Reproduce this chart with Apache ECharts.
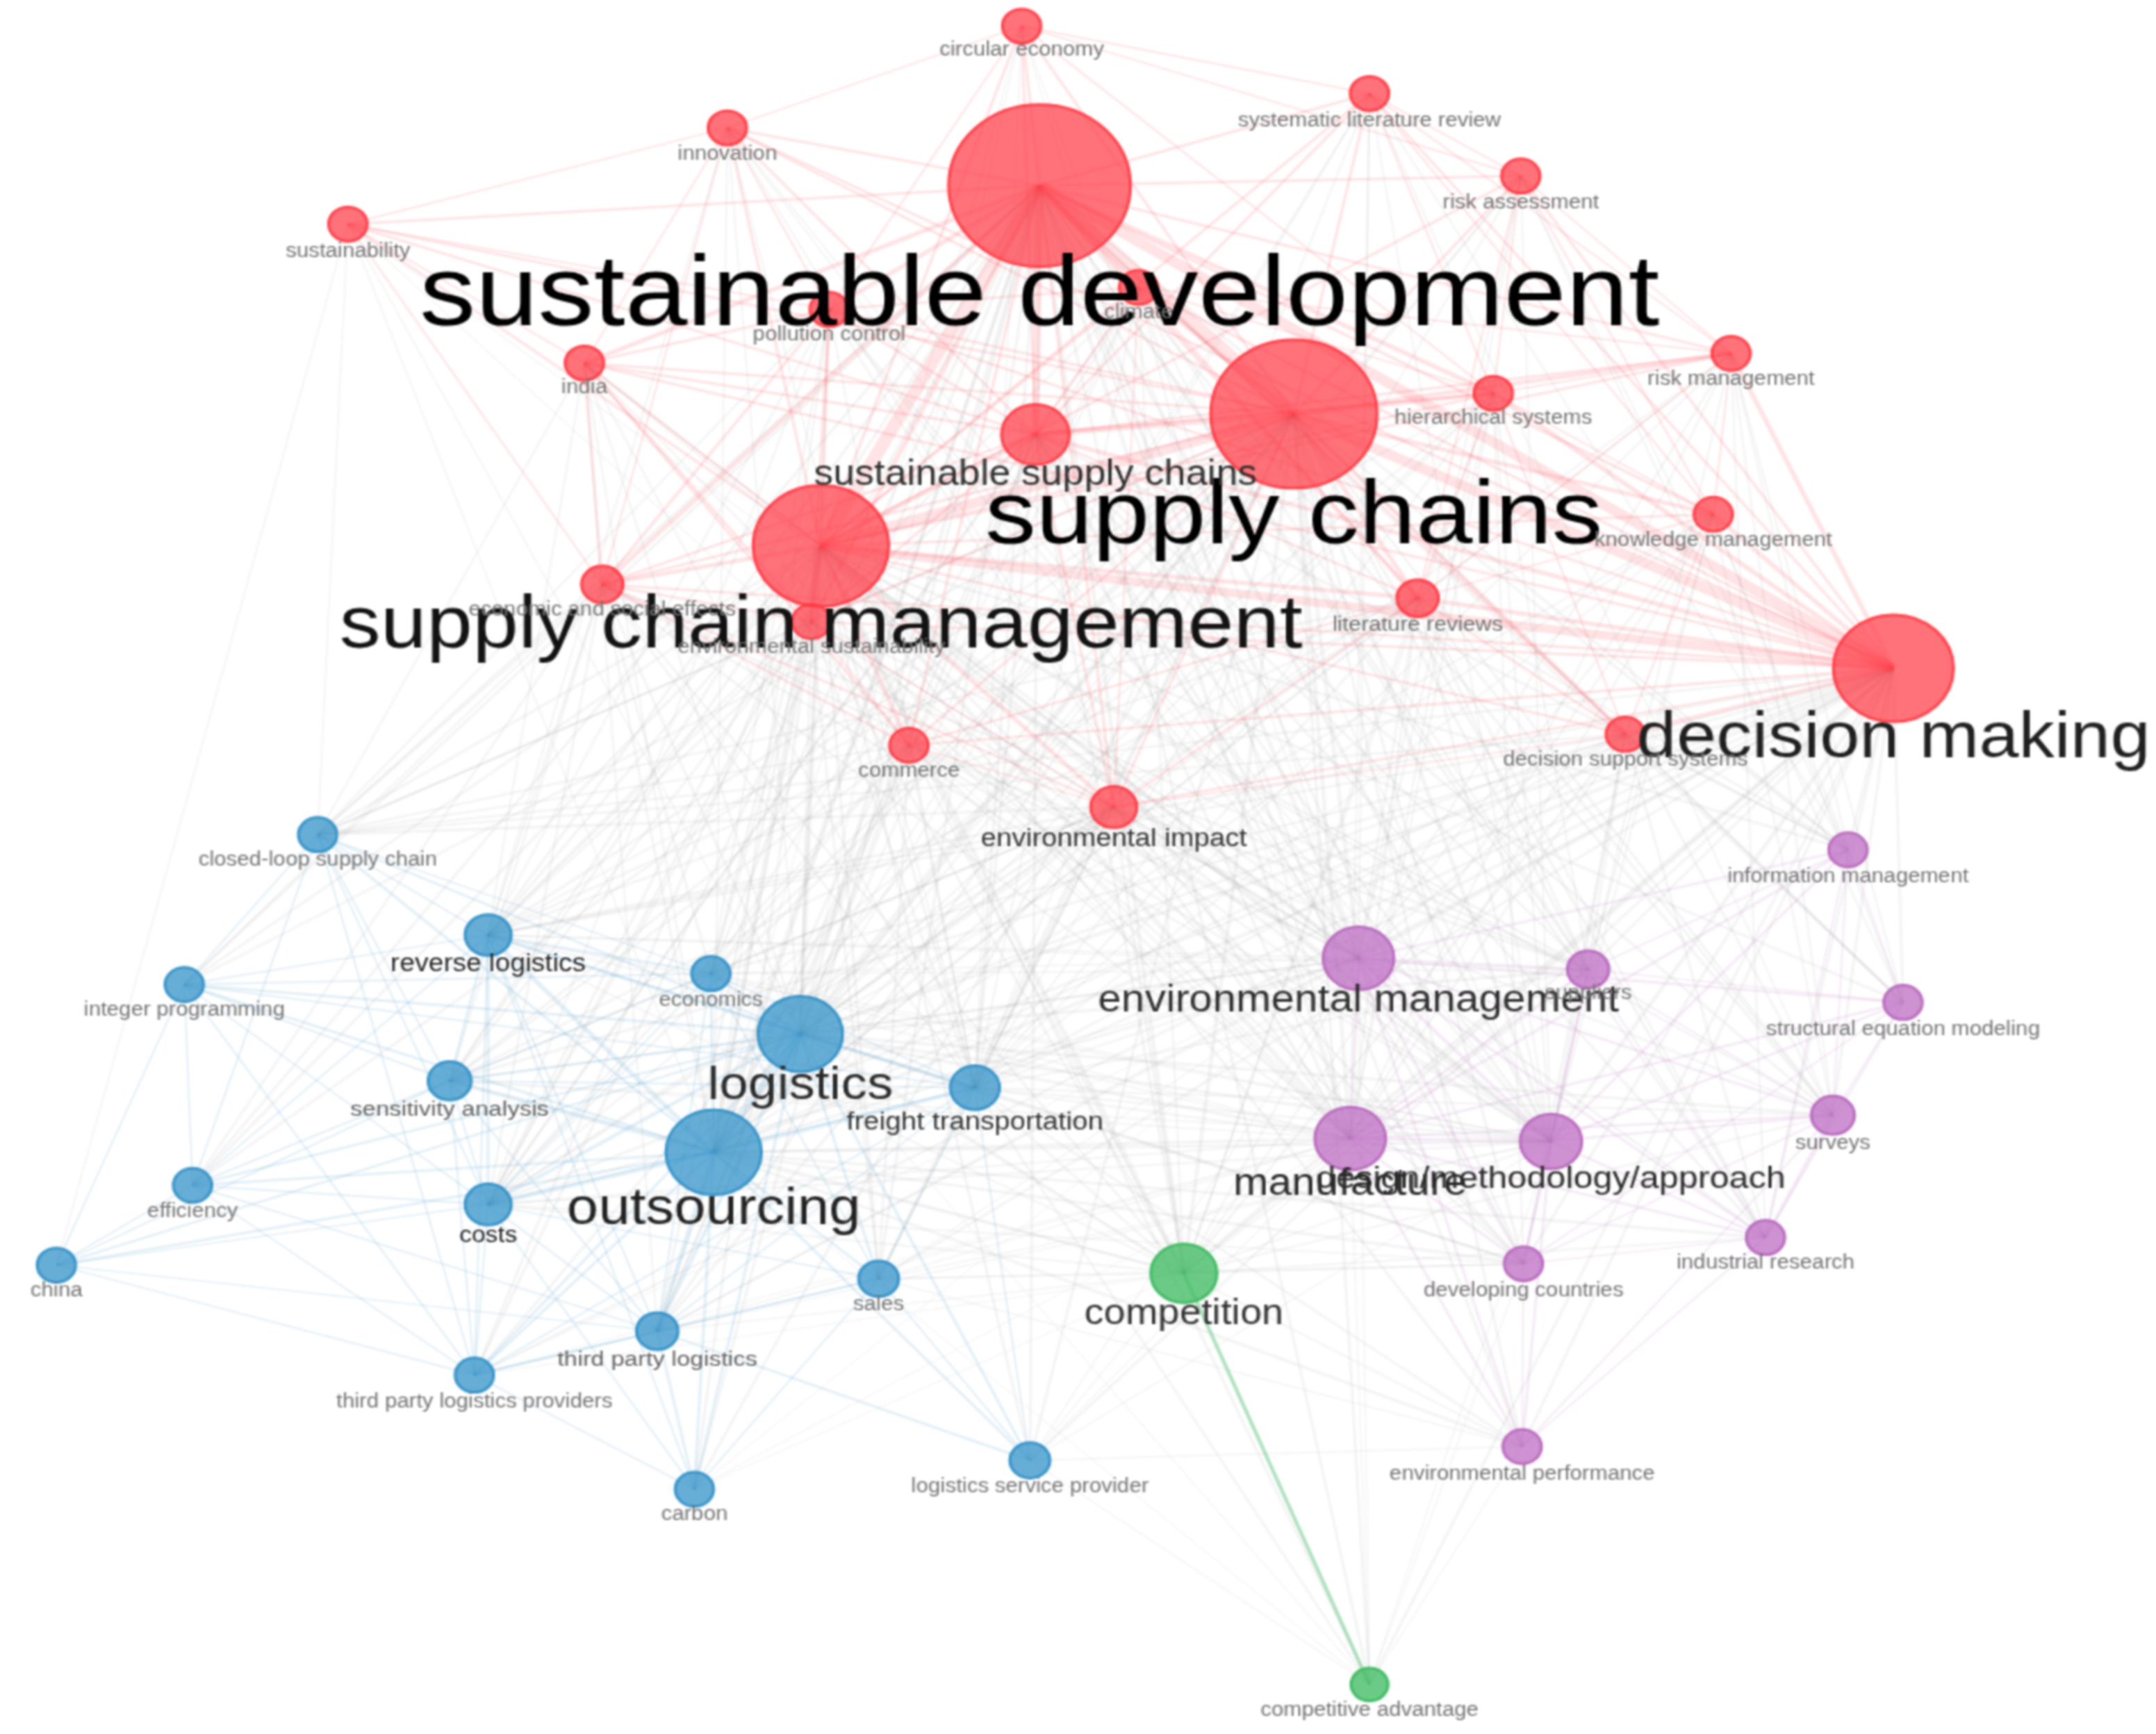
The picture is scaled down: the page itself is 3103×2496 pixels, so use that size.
<!DOCTYPE html>
<html>
<head>
<meta charset="utf-8">
<title>Keyword co-occurrence network</title>
<script src="https://cdn.jsdelivr.net/npm/echarts@6/dist/echarts.min.js"></script>
<style>
html, body { margin: 0; padding: 0; background: #fff; overflow: hidden; }
/* the source picture is a low-res export stretched sideways */
#main { width: 2770px; height: 2496px; transform: scaleX(1.1202); transform-origin: 0 0; filter: blur(0.9px); }
</style>
</head>
<body>
<div id="main"></div>
<script>
// keywords, 0 red 1 blue 2 purple 3 green
var names = [
    'sustainable development', 'supply chains', 'supply chain management', 'decision making', 'sustainable supply chains',
    'circular economy', 'systematic literature review', 'risk assessment', 'innovation', 'sustainability',
    'pollution control', 'climate', 'india', 'hierarchical systems', 'risk management',
    'knowledge management', 'economic and social effects', 'environmental sustainability', 'literature reviews', 'decision support systems',
    'commerce', 'environmental impact',
    'closed-loop supply chain', 'reverse logistics', 'economics', 'integer programming', 'logistics',
    'sensitivity analysis', 'freight transportation', 'outsourcing', 'efficiency', 'costs',
    'china', 'sales', 'third party logistics', 'third party logistics providers', 'carbon', 'logistics service provider',
    'information management', 'environmental management', 'suppliers', 'structural equation modeling', 'surveys',
    'manufacture', 'design/methodology/approach', 'developing countries', 'industrial research', 'environmental performance',
    'competition', 'competitive advantage'
];
var cluster = [
    0, 0, 0, 0, 0, 0, 0, 0, 0, 0, 0, 0, 0, 0, 0, 0, 0, 0, 0, 0, 0, 0,
    1, 1, 1, 1, 1, 1, 1, 1, 1, 1, 1, 1, 1, 1, 1, 1,
    2, 2, 2, 2, 2, 2, 2, 2, 2, 2,
    3, 3
];
var nodeX = [
    756, 941, 597, 1377, 753, 743, 996, 1106, 529, 253, 603, 828, 425, 1086, 1259, 1246, 438, 590, 1031, 1182, 661, 810,
    231, 355, 517, 134, 582, 327, 709, 519, 140, 355, 41, 639, 478, 345, 505, 749,
    1344, 988, 1155, 1384, 1333, 982, 1128, 1108, 1284, 1107,
    861, 996
];
var nodeY = [
    135, 301, 397, 486, 316, 19, 68, 128, 93, 163, 225, 209, 264, 286, 257, 374, 425, 452, 435, 534, 542, 587,
    607, 680, 708, 716, 752, 786, 791, 838, 862, 876, 920, 930, 968, 1000, 1083, 1062,
    618, 697, 705, 729, 811, 828, 830, 919, 900, 1052,
    926, 1225
];
// circle heights, the sideways stretch gives the width
var nodeH = [
    118, 108, 88, 78, 44, 25, 25, 25, 25, 25, 25, 25, 25, 25, 25, 25, 27, 25, 27, 25, 25, 30,
    25, 30, 25, 25, 55, 28, 32, 62, 25, 30, 25, 26, 27, 25, 25, 26,
    25, 46, 27, 25, 28, 46, 40, 25, 25, 25,
    43, 24
];
var labelPx = [
    144, 131, 106, 92, 50, 28, 28, 28, 28, 28, 28, 28, 28, 28, 28, 28, 28, 28, 29, 28, 28, 36,
    28, 35, 28, 28, 67, 31, 36, 73, 28, 32, 28, 28, 31, 28, 28, 28,
    28, 54, 28, 28, 28, 54, 45, 28, 28, 28,
    50, 28
];
var labelDy = [
    81, 76, 59, 52, 30, 18, 20, 20, 19, 20, 19, 18, 18, 18, 19, 19, 19, 19, 20, 19, 19, 23,
    19, 21, 20, 19, 38, 21, 25, 42, 19, 23, 19, 19, 21, 20, 18, 19,
    20, 31, 18, 20, 21, 33, 28, 20, 19, 20,
    30, 19
];
var labelGray = [
    0, 0, 0.07, 0.12, 0.18, 0.46, 0.46, 0.46, 0.46, 0.46, 0.46, 0.46, 0.46, 0.46, 0.46, 0.46, 0.46, 0.46, 0.44, 0.46, 0.46, 0.2,
    0.46, 0.12, 0.46, 0.46, 0.16, 0.38, 0.2, 0.13, 0.46, 0.12, 0.46, 0.46, 0.38, 0.46, 0.46, 0.46,
    0.46, 0.18, 0.46, 0.46, 0.46, 0.16, 0.16, 0.46, 0.46, 0.46,
    0.2, 0.46
];

// link rows: source, strength, targets
var redLinks = [
    [0, 8, [1]], [0, 7, [2]], [0, 6, [3]], [1, 6, [2, 3]], [2, 5, [3]],
    [0, 4, [4]], [1, 3.5, [4]], [2, 3, [4]], [3, 2.5, [4]],
    [0, 2.5, [11, 10, 17, 16, 13, 18, 12]], [0, 1.5, [5, 6, 7, 8, 9, 14, 15, 19, 20, 21]],
    [1, 2.5, [13, 14, 15, 18, 19, 11]], [1, 1.5, [5, 6, 7, 8, 9, 10, 12, 16, 17, 20, 21]],
    [2, 2.5, [16, 17, 18, 20, 21]], [2, 1.5, [5, 6, 7, 8, 9, 10, 11, 12, 13, 14, 15, 19]],
    [3, 2.5, [13, 14, 15, 18, 19]], [3, 1.5, [6, 7, 8, 10, 11, 12, 16, 17, 20, 21]],
    [4, 1.5, [5, 6, 8, 9, 10, 11, 12, 13, 14, 16, 17, 18, 21]],
    [5, 1, [6, 7, 8, 10, 13]], [6, 1, [7, 13, 14, 15]], [7, 1, [13, 14, 15, 18]],
    [8, 1, [9, 10, 12, 16]], [9, 1, [10, 12, 16]], [10, 1.5, [11, 12, 16, 17]],
    [11, 1, [13, 14, 18, 21]], [12, 1.5, [16, 17, 20]], [13, 1, [14, 15, 18, 19]],
    [14, 1, [15, 18]], [15, 1, [18, 19]], [16, 1.5, [17, 20, 21]], [17, 1, [20, 21]],
    [18, 1.5, [19, 20, 21]], [19, 1, [21]], [20, 1, [21]]
];
var blueLinks = [
    [26, 4, [29]],
    [29, 2.5, [34, 27, 31, 23, 28]], [29, 1.5, [22, 24, 25, 30, 32, 33, 35, 36, 37]],
    [26, 2, [23, 24, 28, 31, 34]], [26, 1.5, [22, 25, 27, 30, 32, 33, 35, 36, 37]],
    [23, 1.5, [24, 27, 31]], [23, 1, [22, 25, 28, 30, 34, 35, 36]],
    [22, 1, [25, 27, 30, 31, 24, 35]], [25, 1, [27, 30, 31, 32, 35, 24, 28]],
    [27, 1, [28, 30, 31, 32, 34, 35, 24]], [24, 1, [28, 31, 34, 33]],
    [28, 1, [31, 33, 34, 37, 35]], [30, 1, [31, 32, 35, 34]], [31, 1, [32, 33, 34, 35, 36]],
    [32, 1, [34, 35]], [33, 1, [34, 35, 36, 37]], [34, 1.5, [35, 36, 37]], [35, 1, [36]]
];
var purpleLinks = [
    [39, 2, [43, 44]], [43, 2, [44]],
    [39, 1.5, [40, 47, 41, 42, 38, 45, 46]], [43, 1.5, [40, 42, 45, 46, 47, 41, 38]], [44, 1.5, [42, 46, 45, 40, 47, 41, 38]],
    [38, 1, [40, 41, 42, 46]], [40, 1, [41, 42, 45, 46]], [41, 1, [42, 46, 45]],
    [42, 2, [46]], [42, 1, [45, 47]], [45, 1, [46, 47]], [46, 1, [47]]
];
var greenLinks = [[48, 2, [49]]];
var crossLinks = [
    [0, 2, [26, 29, 39, 43, 44, 48]], [1, 2, [26, 29, 39, 43, 44, 48]], [2, 2.5, [26, 29, 39, 43, 44, 48]], [3, 2, [26, 29, 39, 43, 44, 48]],
    [0, 1.4, [22, 23, 24, 25, 27, 28, 30, 31, 33, 34, 35, 36, 37, 38, 40, 41, 42, 45, 46, 47, 49]],
    [1, 1.4, [22, 23, 24, 25, 27, 28, 30, 31, 33, 34, 35, 36, 37, 38, 40, 41, 42, 45, 46, 47, 49]],
    [2, 1.4, [22, 23, 24, 25, 27, 28, 30, 31, 33, 34, 35, 36, 37, 38, 40, 41, 42, 45, 46, 47, 49]],
    [3, 1.4, [22, 23, 24, 27, 28, 31, 33, 34, 35, 37, 38, 40, 41, 42, 45, 46, 47, 49]],
    [4, 1.4, [23, 26, 28, 29, 31, 34, 38, 39, 40, 42, 43, 44, 45, 46, 48]],
    [21, 1.5, [23, 24, 26, 27, 28, 29, 31, 33, 39, 40, 43, 44, 45, 48, 22, 34]],
    [20, 1.2, [22, 23, 24, 26, 27, 28, 29, 31, 33, 39, 43, 44, 48, 34, 42]],
    [19, 1.2, [26, 28, 29, 38, 39, 40, 41, 42, 43, 44, 46, 48, 23, 22, 45]],
    [18, 1.2, [26, 28, 29, 31, 38, 39, 40, 42, 43, 44, 46, 48, 23, 27, 22]],
    [17, 1.2, [22, 23, 26, 27, 28, 29, 31, 39, 43, 44, 45, 48, 24, 33, 40]],
    [16, 1.2, [22, 23, 25, 26, 27, 28, 29, 30, 31, 39, 43, 44, 48, 24, 40]],
    [15, 1, [26, 29, 38, 39, 40, 41, 42, 43, 44, 28, 48]],
    [14, 1, [26, 29, 38, 39, 41, 43, 44, 46, 28, 42]],
    [13, 1, [26, 28, 29, 31, 39, 43, 44, 48, 23, 40, 45]],
    [12, 1, [22, 26, 29, 39, 43, 44, 34, 23, 28]],
    [11, 1, [26, 29, 39, 43, 44, 48, 23, 28, 31, 24, 40]],
    [10, 1, [22, 26, 29, 39, 43, 44, 23, 24, 28, 31]],
    [9, 0.8, [22, 32, 26, 29, 39, 43]],
    [8, 0.9, [26, 29, 39, 43, 44, 23, 28]],
    [7, 0.9, [26, 29, 39, 43, 44, 41, 38, 28]],
    [6, 0.9, [26, 29, 39, 42, 43, 44, 38, 28]],
    [5, 0.7, [26, 29, 39, 43, 28]],
    [26, 1.6, [39, 43, 44, 48, 40, 42, 45]],
    [29, 1.6, [39, 43, 44, 48, 46, 45, 47]],
    [28, 1.2, [39, 43, 44, 48, 45, 47, 49, 40, 42]],
    [23, 1, [39, 43, 44, 48, 40]], [31, 1, [39, 43, 44, 48, 45]], [27, 0.8, [39, 43, 44, 48]],
    [24, 0.8, [39, 43, 44, 48, 40]], [33, 0.8, [39, 43, 44, 48, 45, 47]], [34, 0.8, [39, 43, 44, 48]],
    [37, 0.8, [39, 43, 44, 48, 47, 49]], [36, 0.6, [39, 43, 48]], [35, 0.6, [39, 43, 48]],
    [48, 1, [39, 43, 44, 40, 45, 47, 42, 46]],
    [49, 0.7, [26, 29, 39, 43, 44, 47, 45]]
];

var clusterFill = ['rgba(255,60,70,0.72)', 'rgba(55,148,203,0.76)', 'rgba(190,110,195,0.75)', 'rgba(65,188,100,0.78)'];
var clusterEdge = ['rgba(255,60,70,0.9)', 'rgba(50,145,200,0.9)', 'rgba(185,105,190,0.9)', 'rgba(60,185,95,0.9)'];
var clusterLine = ['rgba(255,80,95,0.16)', 'rgba(70,155,210,0.15)', 'rgba(190,115,195,0.14)', 'rgba(70,185,105,0.42)'];
var crossLine = 'rgba(125,125,125,0.085)';

var sy = 2496 / 1261;

function grayText(g) {
    var v = Math.round(g * 255);
    return 'rgb(' + v + ',' + v + ',' + v + ')';
}

var nodes = names.map(function (name, i) {
    return {
        name: name,
        value: [nodeX[i], nodeY[i]],
        symbolSize: nodeH[i] * sy,
        itemStyle: { color: clusterFill[cluster[i]], borderColor: clusterEdge[cluster[i]], borderWidth: 4 },
        label: {
            show: true,
            position: 'inside',
            offset: [0, labelDy[i] * sy],
            formatter: name,
            fontFamily: 'Liberation Sans',
            fontSize: labelPx[i],
            color: grayText(labelGray[i])
        }
    };
});

var links = [];
function addLinks(rows, color) {
    rows.forEach(function (row) {
        row[2].forEach(function (t) {
            links.push({
                source: row[0],
                target: t,
                lineStyle: { width: row[1] * 2.4, color: color || clusterLine[cluster[row[0]]], opacity: 1, curveness: 0 }
            });
        });
    });
}
addLinks(crossLinks, crossLine);
addLinks(blueLinks);
addLinks(purpleLinks);
addLinks(greenLinks);
addLinks(redLinks);

// low pixel ratio on purpose, keeps the soft look of the original export
var myChart = echarts.init(document.getElementById('main'), null, { devicePixelRatio: 0.5 });
myChart.setOption({
    animation: false,
    backgroundColor: '#ffffff',
    grid: { left: 0, right: 0, top: 0, bottom: 0 },
    xAxis: { type: 'value', min: 0, max: 1568, show: false },
    yAxis: { type: 'value', min: 0, max: 1261, inverse: true, show: false },
    series: [{
        type: 'graph',
        coordinateSystem: 'cartesian2d',
        layout: 'none',
        symbol: 'circle',
        silent: true,
        data: nodes,
        links: links
    }]
});
</script>
</body>
</html>
